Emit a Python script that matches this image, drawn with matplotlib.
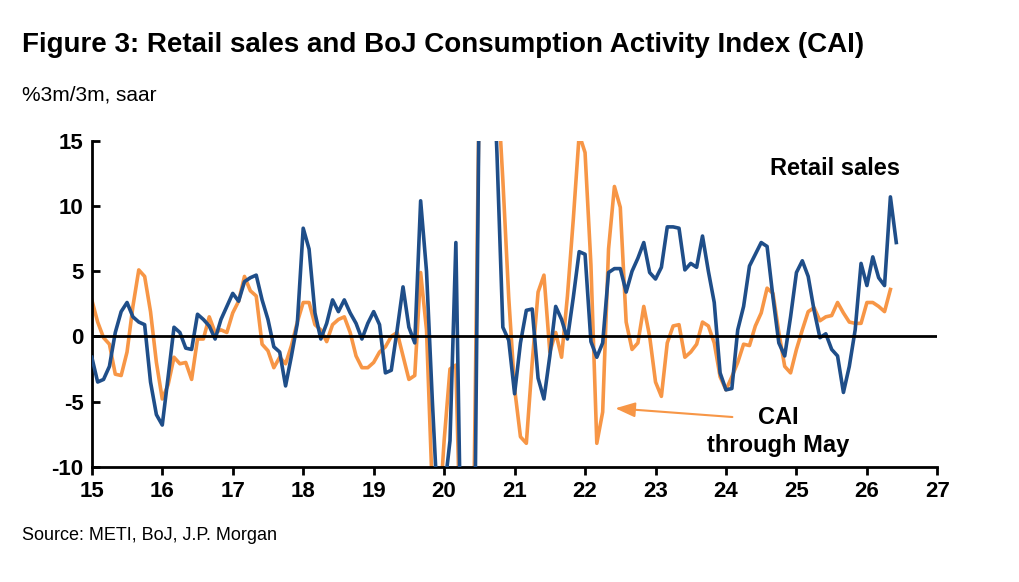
import matplotlib
matplotlib.use("Agg")
import matplotlib.pyplot as plt
import numpy as np

retail = [-1.6,-3.5,-3.3,-2.3,0.3,1.9,2.6,1.5,1.1,0.9,-3.5,-6.0,
          -6.8,-3.1,0.7,0.3,-0.9,-1.0,1.7,1.3,0.8,-0.2,1.3,2.3,
          3.3,2.7,4.2,4.5,4.7,2.8,1.3,-0.8,-1.2,-3.8,-1.5,1.0,
          8.3,6.7,1.8,-0.2,1.0,2.8,1.9,2.8,1.8,1.0,-0.2,1.0,
          1.9,0.9,-2.8,-2.6,0.5,3.8,0.7,-0.5,10.4,5.0,-5.0,-14,
          -12,-8,7.2,-20,-30,-25,20,28,25,14,0.7,-0.3,
          -4.4,-0.5,2.0,2.1,-3.2,-4.8,-1.5,2.3,1.3,-0.2,3.0,6.5,
          6.3,-0.4,-1.6,-0.5,4.9,5.2,5.2,3.4,5.0,6.0,7.2,4.9,
          4.4,5.3,8.4,8.4,8.3,5.1,5.6,5.3,7.7,5.0,2.6,-2.8,
          -4.1,-4.0,0.5,2.3,5.4,6.3,7.2,6.9,3.0,-0.5,-1.5,1.5,
          4.9,5.8,4.6,2.0,-0.1,0.2,-1.0,-1.5,-4.3,-2.3,0.5,5.6,
          3.9,6.1,4.5,3.9,10.7,7.2]
cai = [2.8,1.1,-0.1,-0.6,-2.9,-3.0,-1.2,2.3,5.1,4.6,1.9,-2.0,
       -4.8,-3.7,-1.6,-2.1,-2.0,-3.3,-0.2,-0.2,1.5,0.3,0.5,0.3,
       1.8,2.7,4.6,3.5,3.1,-0.6,-1.1,-2.4,-1.6,-2.1,-0.7,1.1,
       2.6,2.6,0.9,0.5,-0.4,0.9,1.3,1.5,0.3,-1.5,-2.4,-2.4,
       -2.0,-1.2,-0.8,0.0,0.3,-1.5,-3.3,-3.0,4.9,0.5,-12,-15,
       -8,-2.5,-2.2,-20,-25,-15,20,30,28,20,12,3,
       -4,-7.7,-8.2,-2.0,3.4,4.7,-1.2,0.3,-1.6,3.1,9.0,15.5,
       14.1,5.5,-8.2,-5.8,6.7,11.5,9.9,1.1,-1.0,-0.5,2.3,0.0,
       -3.5,-4.6,-0.5,0.8,0.9,-1.6,-1.2,-0.6,1.1,0.8,-0.5,-3.1,
       -4.1,-3.1,-2.0,-0.6,-0.7,0.8,1.8,3.7,3.3,0.3,-2.3,-2.8,
       -1.0,0.5,1.9,2.2,1.2,1.5,1.6,2.6,1.8,1.1,1.0,1.0,
       2.6,2.6,2.3,1.9,3.6]
xticks = list(range(15, 28))
yticks = [-10, -5, 0, 5, 10, 15]

blue = "#1f4e89"
orange = "#f79646"
fam = ["Liberation Sans", "DejaVu Sans"]
plt.rcParams["font.family"] = fam

fig = plt.figure(figsize=(10.2, 5.82), dpi=100)
ax = fig.add_axes([0.090, 0.198, 0.829, 0.560])
xr = 15 + np.arange(len(retail)) / 12
xc = 15 + np.arange(len(cai)) / 12
ax.plot(xr, retail, color=blue, lw=2.6, zorder=3)
ax.plot(xc, cai, color=orange, lw=2.6, zorder=2)
ax.axhline(0, color="black", lw=2, zorder=4)
ax.set_xlim(15, 27)
ax.set_ylim(-10, 15)
ax.set_xticks(xticks)
ax.set_yticks(yticks)
ax.set_xticklabels([str(t) for t in xticks], fontsize=16, fontweight="bold")
ax.set_yticklabels([str(t) for t in yticks], fontsize=16, fontweight="bold")
for s in ["top", "right"]:
    ax.spines[s].set_visible(False)
for s in ["left", "bottom"]:
    ax.spines[s].set_linewidth(2)
ax.tick_params(axis="x", direction="out", length=6, width=2, pad=4)
ax.tick_params(axis="y", direction="in", length=6, width=2, pad=6)

ax.text(25.55, 12.9, "Retail sales", fontsize=17, fontweight="bold", ha="center", va="center")
ax.text(24.74, -7.3, "CAI\nthrough May", fontsize=17, fontweight="bold", ha="center", va="center",
        linespacing=1.25)
ax.annotate("", xy=(22.39, -5.5), xytext=(24.13, -6.2),
            arrowprops=dict(arrowstyle="-|>,head_length=1.2,head_width=0.45", color=orange, lw=1.5))

fig.text(0.022, 0.922, "Figure 3: Retail sales and BoJ Consumption Activity Index (CAI)",
         fontsize=20, fontweight="bold", va="center")
fig.text(0.022, 0.836, "%3m/3m, saar", fontsize=15, va="center")
fig.text(0.022, 0.080, "Source: METI, BoJ, J.P. Morgan", fontsize=13, va="center")
fig.savefig("out.png", dpi=100)
